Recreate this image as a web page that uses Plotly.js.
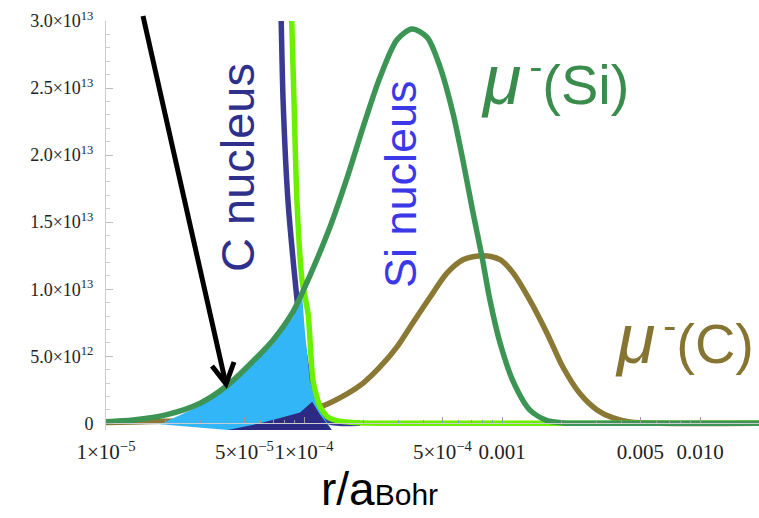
<!DOCTYPE html>
<html>
<head>
<meta charset="utf-8">
<script src="https://cdn.plot.ly/plotly-3.0.1.min.js"></script>
<style>html,body{margin:0;padding:0;background:#fff;}#chart{width:759px;height:518px;}</style>
</head>
<body>
<div id="chart"></div>
<script>
// ---- data (x = r/a_Bohr, y = density) ----
const muSiX = [1.0e-5, 1.37e-5, 2.03e-5, 2.99e-5, 4.08e-5, 5.33e-5, 6.97e-5, 8.79e-5, 1.07e-4, 1.35e-4, 1.65e-4, 1.99e-4, 2.42e-4, 2.95e-4, 3.51e-4, 4.18e-4, 4.86e-4, 5.66e-4, 6.35e-4, 7.14e-4, 7.93e-4, 8.69e-4, 9.77e-4, 1.14e-3, 1.38e-3, 1.69e-3, 2.03e-3, 3.13e-3, 2.0e-2];
const muSiY = [0.012e13, 0.025e13, 0.065e13, 0.15e13, 0.28e13, 0.44e13, 0.62e13, 0.83e13, 1.10e13, 1.46e13, 1.83e13, 2.21e13, 2.58e13, 2.86e13, 2.94e13, 2.88e13, 2.66e13, 2.31e13, 1.96e13, 1.57e13, 1.24e13, 0.92e13, 0.60e13, 0.31e13, 0.10e13, 0.02e13, 0.003e13, 0, 0];

const muCX = [1.0e-5, 1.37e-5, 2.03e-5, 2.99e-5, 5.33e-5, 8.79e-5, 1.20e-4, 1.65e-4, 1.99e-4, 2.42e-4, 2.95e-4, 3.55e-4, 4.33e-4, 5.27e-4, 6.35e-4, 8.02e-4, 9.77e-4, 1.14e-3, 1.38e-3, 1.69e-3, 2.03e-3, 2.48e-3, 3.02e-3, 3.64e-3, 4.43e-3, 6.28e-3, 2.0e-2];
const muCY = [0.005e13, 0.01e13, 0.015e13, 0.02e13, 0.04e13, 0.07e13, 0.12e13, 0.22e13, 0.30e13, 0.42e13, 0.57e13, 0.75e13, 0.94e13, 1.12e13, 1.22e13, 1.25e13, 1.22e13, 1.12e13, 0.92e13, 0.67e13, 0.42e13, 0.22e13, 0.10e13, 0.04e13, 0.01e13, 0, 0];

const cNucX = [7.66e-5, 7.84e-5, 8.30e-5, 9.01e-5, 9.44e-5, 1.0e-4, 1.07e-4, 1.18e-4, 1.35e-4, 1.92e-4];
const cNucY = [3.05e13, 2.41e13, 1.66e13, 1.07e13, 0.79e13, 0.54e13, 0.28e13, 0.10e13, 0.01e13, 0];

const siNucX = [8.65e-5, 8.90e-5, 9.21e-5, 9.77e-5, 1.05e-4, 1.11e-4, 1.20e-4, 1.31e-4, 1.47e-4, 1.80e-4, 2.42e-4, 2.0e-2];
const siNucY = [3.05e13, 2.41e13, 1.66e13, 1.07e13, 0.81e13, 0.32e13, 0.13e13, 0.05e13, 0.02e13, 0.005e13, 0, 0];

const overlapSiX = [1.88e-5, 2.99e-5, 4.08e-5, 5.33e-5, 6.97e-5, 8.79e-5, 9.77e-5, 1.01e-4, 1.07e-4, 1.17e-4, 1.38e-4, 4.13e-5];
const overlapSiY = [-0.007e13, 0.13e13, 0.26e13, 0.42e13, 0.59e13, 0.79e13, 0.97e13, 0.69e13, 0.32e13, 0.12e13, -0.05e13, -0.05e13];

const overlapCX = [4.13e-5, 6.0e-5, 7.57e-5, 9.55e-5, 1.10e-4, 1.20e-4, 1.38e-4];
const overlapCY = [-0.05e13, 0.0, 0.04e13, 0.08e13, 0.16e13, 0.07e13, -0.05e13];

const xTickVals = [1e-5, 5e-5, 1e-4, 5e-4, 1e-3, 5e-3, 1e-2];
const xTickText = ['1×10<sup>−5</sup>', '5×10<sup>−5</sup>', '1×10<sup>−4</sup>', '5×10<sup>−4</sup>', '0.001', '0.005', '0.010'];
const xMinorVals = [2e-5,3e-5,4e-5,6e-5,7e-5,8e-5,9e-5,2e-4,3e-4,4e-4,6e-4,7e-4,8e-4,9e-4,2e-3,3e-3,4e-3,6e-3,7e-3,8e-3,9e-3];
const yTickVals = [0, 5e12, 1e13, 1.5e13, 2e13, 2.5e13, 3e13];
const yTickText = ['0', '5.0×10<sup>12</sup>', '1.0×10<sup>13</sup>', '1.5×10<sup>13</sup>', '2.0×10<sup>13</sup>', '2.5×10<sup>13</sup>', '3.0×10<sup>13</sup>'];

// ---- layout helpers (pixel -> paper) ----
const L = 106, T = 21, PW = 653, PH = 409;
const PX = p => (p - L) / PW;
const PY = p => (T + PH - p) / PH;

const traces = [
  {x: cNucX, y: cNucY, mode: 'lines', line: {color: '#3a3a92', width: 5.5, shape: 'spline', smoothing: 0.6}, hoverinfo: 'skip'},
  {x: muCX, y: muCY, mode: 'lines', line: {color: '#8a7935', width: 5.5, shape: 'spline', smoothing: 0.8}, hoverinfo: 'skip'},
  {x: overlapSiX, y: overlapSiY, mode: 'lines', fill: 'toself', fillcolor: '#33b6f7', line: {color: '#33b6f7', width: 0}, hoverinfo: 'skip'},
  {x: overlapCX, y: overlapCY, mode: 'lines', fill: 'toself', fillcolor: '#2d2a85', line: {color: '#2d2a85', width: 0}, hoverinfo: 'skip'},
  {x: siNucX, y: siNucY, mode: 'lines', line: {color: '#6cf000', width: 5.5, shape: 'spline', smoothing: 0.6}, hoverinfo: 'skip'},
  {x: muSiX, y: muSiY, mode: 'lines', line: {color: '#3c9455', width: 5.5, shape: 'spline', smoothing: 0.8}, hoverinfo: 'skip'}
];

const layout = {
  width: 759, height: 518,
  margin: {l: L, r: 759 - L - PW, t: T, b: 518 - T - PH, pad: 0},
  paper_bgcolor: '#ffffff', plot_bgcolor: '#ffffff',
  showlegend: false,
  xaxis: {
    type: 'log', range: [-5, -1.702],
    anchor: 'free', position: 0.05 / 3.05,
    showgrid: false, zeroline: false,
    showline: true, linecolor: '#cccccc', linewidth: 1,
    ticks: 'inside', ticklen: 6, tickcolor: '#999999', tickwidth: 1,
    tickmode: 'array', tickvals: xTickVals, ticktext: xTickText,
    tickangle: 0,
    tickfont: {family: 'Liberation Serif', size: 21, color: '#222'},
    ticklabelstandoff: 10,
    minor: {tickmode: 'array', tickvals: xMinorVals, ticks: 'inside', ticklen: 3, tickcolor: '#999999', showgrid: false}
  },
  yaxis: {
    range: [-0.05e13, 3.0e13],
    showgrid: false, zeroline: false,
    showline: true, linecolor: '#cccccc', linewidth: 1,
    ticks: 'inside', ticklen: 7, tickcolor: '#bbbbbb', tickwidth: 1,
    tickmode: 'array', tickvals: yTickVals, ticktext: yTickText,
    tickfont: {family: 'Liberation Serif', size: 18, color: '#222'},
    ticklabelstandoff: 8,
    minor: {dtick: 1e12, ticks: 'inside', ticklen: 4, tickcolor: '#cccccc', showgrid: false}
  },
  shapes: [
    {type: 'line', xref: 'paper', yref: 'paper', x0: PX(143), y0: PY(16), x1: PX(225), y1: PY(380), line: {color: '#000', width: 5}},
    {type: 'path', xref: 'paper', yref: 'paper', path: 'M' + PX(212) + ',' + PY(366) + ' L' + PX(226) + ',' + PY(384) + ' L' + PX(234) + ',' + PY(362), line: {color: '#000', width: 5}}
  ],
  annotations: [
    {xref: 'paper', yref: 'paper', x: PX(237), y: PY(168), text: 'C nucleus', textangle: -90, showarrow: false, xanchor: 'center', yanchor: 'middle',
     font: {family: 'Liberation Sans', size: 47, color: '#2f2f8c'}},
    {xref: 'paper', yref: 'paper', x: PX(400), y: PY(184), text: 'Si nucleus', textangle: -90, showarrow: false, xanchor: 'center', yanchor: 'middle',
     font: {family: 'Liberation Sans', size: 45, color: '#3b38e8'}},
    {xref: 'paper', yref: 'paper', x: PX(555), y: PY(80), text: '<span style="font-size:70px"><i>μ</i></span><sup>&#8201;-</sup>(Si)', showarrow: false, xanchor: 'center', yanchor: 'middle',
     font: {family: 'Liberation Sans', size: 56, color: '#3a8c4c'}},
    {xref: 'paper', yref: 'paper', x: PX(684), y: PY(339), text: '<span style="font-size:70px"><i>μ</i></span><sup>&#8201;-</sup>(C)', showarrow: false, xanchor: 'center', yanchor: 'middle',
     font: {family: 'Liberation Sans', size: 56, color: '#867532'}},
    {xref: 'paper', yref: 'paper', x: PX(379), y: PY(489), text: 'r/a<span style="font-size:30px">Bohr</span>', showarrow: false, xanchor: 'center', yanchor: 'middle',
     font: {family: 'Liberation Sans', size: 46, color: '#000'}}
  ]
};

Plotly.newPlot('chart', traces, layout, {staticPlot: true, displayModeBar: false});
</script>
</body>
</html>
